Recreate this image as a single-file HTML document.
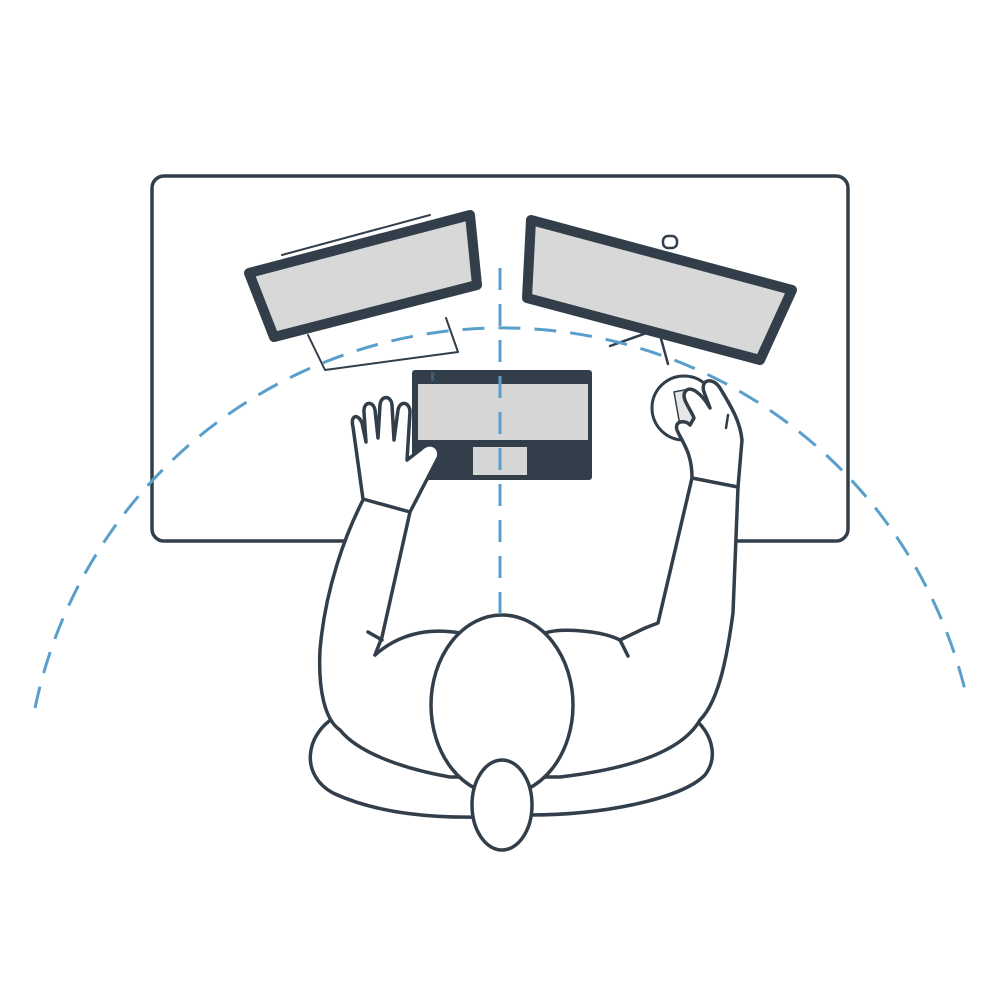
<!DOCTYPE html>
<html><head><style>html,body{margin:0;padding:0;background:#fff}svg{display:block}</style></head>
<body>
<svg width="1000" height="1000" viewBox="0 0 1000 1000" xmlns="http://www.w3.org/2000/svg">
<g fill="none" stroke="#323f4a" stroke-width="3.5" stroke-linecap="round" stroke-linejoin="round">
<rect x="152" y="176" width="696" height="365" rx="12" fill="#fff"/>
<line x1="282" y1="255" x2="430" y2="215" stroke-width="2"/>
<path d="M308 335 L325 370 L458 352 L446 318" stroke-width="2"/>
<polygon points="249,273 470,215 477,285 274,337" fill="#d8d8d8" stroke-width="10"/>
<path d="M610 346 L655 330 M660 335 L668 364" stroke-width="2.5"/>
<rect x="663" y="236" width="14" height="12" rx="5" fill="#fff" stroke-width="2.5"/>
<polygon points="531,220 792,290 760,360 527,298" fill="#d8d8d8" stroke-width="10"/>
<rect x="412" y="370" width="180" height="110" rx="3" fill="#323f4a" stroke="none"/>
<rect x="418" y="384" width="170" height="56" fill="#d6d6d6" stroke="none"/>
<rect x="473" y="447" width="54" height="28" fill="#d6d6d6" stroke="none"/>
<circle cx="684" cy="408" r="32" fill="#fff" stroke-width="3"/>
<rect x="677" y="390" width="18" height="36" fill="#e6e6e6" stroke-width="1.5" transform="rotate(-10 686 408)"/>
<path d="M468 542 L478 618 M537 542 L527 620 M640 543 L643 625"/>
<path d="M335 717 C305 735 300 775 333 793 C380 815 440 818 480 817 L530 815 C600 815 680 800 705 775 C720 755 710 730 692 717" fill="#fff"/>
<path d="M363 500 C345 535 325 590 320 650 C318 690 325 720 340 730 C360 755 410 770 450 777 L560 777 C620 770 680 755 700 720 C720 700 728 650 733 613 L738 487" fill="#fff"/>
<path d="M692 478 L658 623 L645 628 L620 640 C600 630 560 628 545 633 L460 633 C430 628 400 633 375 655" fill="none"/>
<path d="M375 655 L382 637 L410 512"/>
<path d="M368 632 L382 640"/>
<path d="M620 640 L628 656"/>
<path d="M363 499 L410 512 L438 458 C442 450 432 438 420 450 L407 460 L410 412 C410 402 400 400 398 410 L394 440 L392 405 C391 395 381 395 380 405 L378 438 L375 410 C373 400 363 402 364 412 L366 442 L362 423 C358 413 350 415 353 427 Z" fill="#fff"/>
<path d="M692 478 L738 487 L742 440 C740 420 730 405 720 388 C712 376 700 380 704 392 L710 408 C702 394 690 384 685 392 C681 398 690 408 694 418 L690 425 C686 420 674 420 677 430 C682 442 692 452 692 478 Z" fill="#fff"/>
<path d="M728 415 L726 428" stroke-width="2.5"/>
<ellipse cx="502" cy="705" rx="71" ry="90" fill="#fff"/>
<ellipse cx="502" cy="805" rx="30" ry="45" fill="#fff"/>
</g>
<g fill="none" stroke="#5a9fcc" stroke-width="3" stroke-dasharray="22 14">
<path d="M35 708 A477 477 0 0 1 965 690"/>
<line x1="500" y1="268" x2="500" y2="615"/>
</g>
<text x="430" y="380" font-family="Liberation Sans, sans-serif" font-size="10" fill="#5a9fcc">ᛒ</text>
</svg>
</body></html>
